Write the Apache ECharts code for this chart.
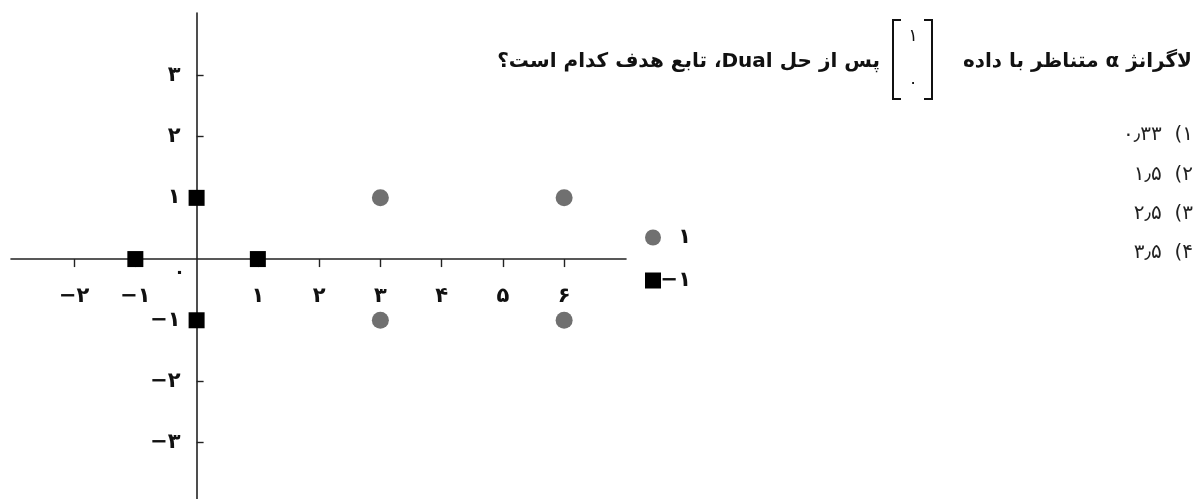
<!DOCTYPE html>
<html>
<head>
<meta charset="utf-8">
<script src="https://cdn.jsdelivr.net/npm/echarts@6/dist/echarts.min.js"></script>
<style>
html,body{margin:0;padding:0;background:#fff;}
#chart{width:1199px;height:499px;}
</style>
</head>
<body>
<div id="chart"></div>
<script>
// ---- data ----
var seriesNames = ['۱', '−۱'];
var posX = [3, 6, 3, 6];
var posY = [1, 1, -1, -1];
var negX = [0, -1, 1, 0];
var negY = [1, 0, 0, -1];
var xTicks = [-2, -1, 1, 2, 3, 4, 5, 6];
var xTickLabels = ['−۲', '−۱', '۱', '۲', '۳', '۴', '۵', '۶'];
var yTicks = [-3, -2, -1, 1, 2, 3];
var yTickLabels = ['−۳', '−۲', '−۱', '۱', '۲', '۳'];
var originLabel = '۰';
var questionRight = 'لاگرانژ α متناظر با داده';
var questionLeft = 'پس از حل Dual، تابع هدف کدام است؟';
var vectorEntries = ['۱', '۰'];
var options = ['۱)  ۰٫۳۳', '۲)  ۱٫۵', '۳)  ۲٫۵', '۴)  ۳٫۵'];

var X_MIN = -3.03, X_MAX = 7.01, Y_MIN = -3.92, Y_MAX = 4.02;

var RLE = '\u202B', PDF = '\u202C';
function rtl(s) { return RLE + s + PDF; }
function zip(a, b) { return a.map(function (v, i) { return [v, b[i]]; }); }

var FONT = '"DejaVu Sans", sans-serif';
var chart = echarts.init(document.getElementById('chart'), null, {renderer: 'canvas'});

var graphics = [
  {type: 'text', x: 1192, y: 62, style: {text: rtl(questionRight), font: 'bold 20px ' + FONT, fill: '#111', align: 'right', verticalAlign: 'middle'}},
  {type: 'text', x: 880, y: 62, style: {text: rtl(questionLeft), font: 'bold 20px ' + FONT, fill: '#111', align: 'right', verticalAlign: 'middle'}},
  {type: 'polyline', shape: {points: [[901, 20], [893, 20], [893, 99], [901, 99]]}, style: {stroke: '#111', lineWidth: 2, fill: null}},
  {type: 'polyline', shape: {points: [[924, 20], [932, 20], [932, 99], [924, 99]]}, style: {stroke: '#111', lineWidth: 2, fill: null}},
  {type: 'text', x: 913, y: 37, style: {text: vectorEntries[0], font: '17px ' + FONT, fill: '#111', align: 'center', verticalAlign: 'middle'}},
  {type: 'text', x: 913, y: 84, style: {text: vectorEntries[1], font: '17px ' + FONT, fill: '#111', align: 'center', verticalAlign: 'middle'}}
];
options.forEach(function (o, i) {
  graphics.push({type: 'text', x: 1193, y: 135 + i * 39.3, style: {text: rtl(o), font: '20px ' + FONT, fill: '#222', align: 'right', verticalAlign: 'middle'}});
});

var labelStyle = {fontFamily: FONT, fontWeight: 'bold', fontSize: 21, color: '#111'};

chart.setOption({
  animation: false,
  backgroundColor: '#fff',
  grid: {left: 11, right: 1199 - 626, top: 13, bottom: 0, containLabel: false, outerBoundsMode: 'none'},
  legend: {
    orient: 'vertical', left: 640, top: 222, itemWidth: 16, itemHeight: 16, itemGap: 22,
    data: [{name: seriesNames[0], icon: 'circle'}, {name: seriesNames[1], icon: 'rect'}],
    formatter: function (n) { return '{r|' + n + '}'; },
    textStyle: {rich: {r: {width: 25, align: 'right', fontFamily: FONT, fontWeight: 'bold', fontSize: 21, color: '#111', lineHeight: 16}}}
  },
  xAxis: {
    type: 'value', min: X_MIN, max: X_MAX, splitLine: {show: false}, position: 'bottom', offset: 0,
    axisLine: {onZero: false, lineStyle: {color: '#222', width: 1.6}},
    axisTick: {show: true, length: 8, customValues: xTicks, lineStyle: {color: '#222', width: 1.4}},
    axisLabel: Object.assign({customValues: xTicks, margin: 27,
      formatter: function (v) { var i = xTicks.indexOf(v); return i >= 0 ? xTickLabels[i] : ''; }}, labelStyle)
  },
  yAxis: {
    type: 'value', min: Y_MIN, max: Y_MAX, splitLine: {show: false}, position: 'left', offset: 0,
    axisLine: {onZero: false, lineStyle: {color: '#222', width: 1.6}},
    axisTick: {show: true, inside: true, length: 7, customValues: yTicks, lineStyle: {color: '#222', width: 1.4}},
    axisLabel: Object.assign({customValues: yTicks, margin: 16,
      formatter: function (v) { var i = yTicks.indexOf(v); return i >= 0 ? yTickLabels[i] : ''; }}, labelStyle)
  },
  series: [
    {name: seriesNames[0], type: 'scatter', symbol: 'circle', symbolSize: 17, itemStyle: {color: '#707070', opacity: 1}, data: zip(posX, posY), z: 3},
    {name: seriesNames[1], type: 'scatter', symbol: 'rect', symbolSize: 16, itemStyle: {color: '#000', opacity: 1}, data: zip(negX, negY), z: 3}
  ],
  graphic: graphics
});

// move both axes (with their labels) onto the zero lines
var zero = chart.convertToPixel({gridIndex: 0}, [0, 0]);
var corner = chart.convertToPixel({gridIndex: 0}, [X_MIN, Y_MIN]);
graphics.push({type: 'text', x: zero[0] - 17, y: zero[1] + 14, style: {text: originLabel, font: 'bold 18px ' + FONT, fill: '#111', align: 'center', verticalAlign: 'middle'}});
chart.setOption({
  xAxis: {offset: -(corner[1] - zero[1])},
  yAxis: {offset: -(zero[0] - corner[0])},
  graphic: graphics
});
</script>
</body>
</html>
